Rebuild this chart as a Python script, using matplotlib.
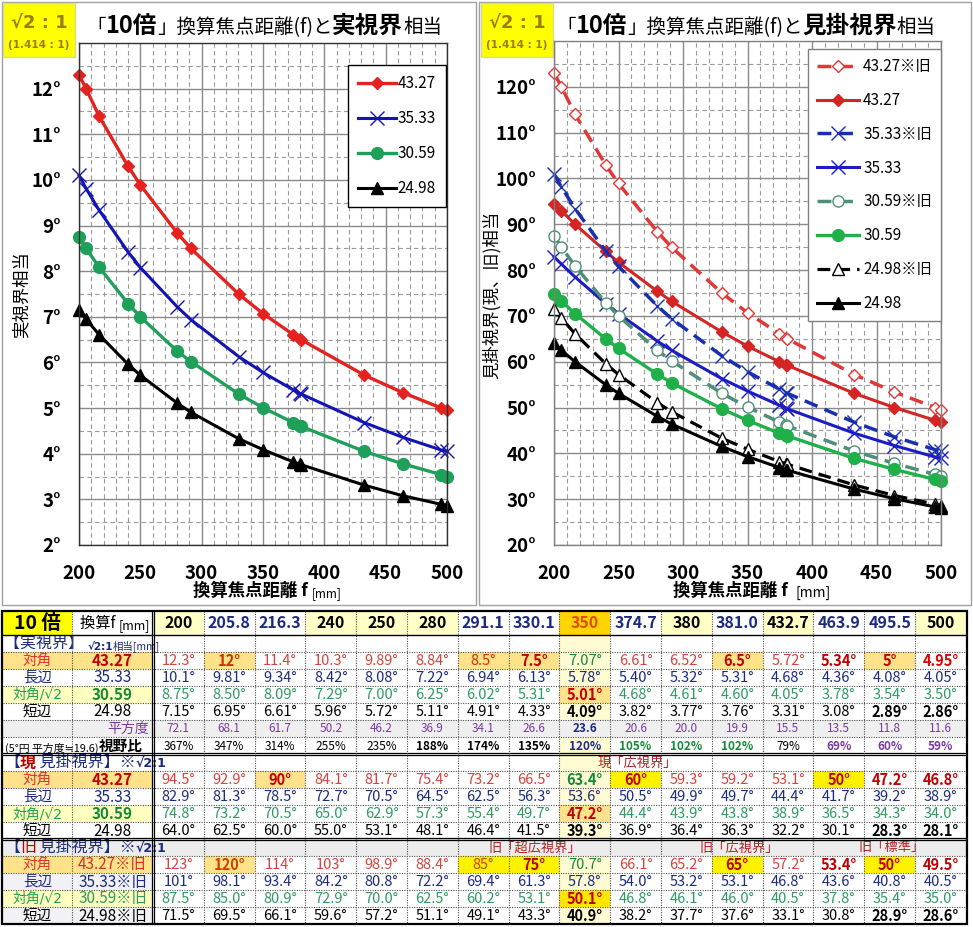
import numpy as np
import matplotlib
matplotlib.use("Agg")
import matplotlib.pyplot as plt
from matplotlib.patches import Rectangle

plt.rcParams['font.family'] = ['Noto Sans CJK JP', 'DejaVu Sans']
ROOTF = ['DejaVu Sans', 'Noto Sans CJK JP']

# ---------------- data ----------------
focal = ["200", "205.8", "216.3", "240", "250", "280", "291.1", "330.1", "350",
         "374.7", "380", "381.0", "432.7", "463.9", "495.5", "500"]
series_names = ["43.27", "35.33", "30.59", "24.98"]

true_diag = ["12.3", "12", "11.4", "10.3", "9.89", "8.84", "8.5", "7.5", "7.07",
             "6.61", "6.52", "6.5", "5.72", "5.34", "5", "4.95"]
true_long = ["10.1", "9.81", "9.34", "8.42", "8.08", "7.22", "6.94", "6.13", "5.78",
             "5.40", "5.32", "5.31", "4.68", "4.36", "4.08", "4.05"]
true_mid = ["8.75", "8.50", "8.09", "7.29", "7.00", "6.25", "6.02", "5.31", "5.01",
            "4.68", "4.61", "4.60", "4.05", "3.78", "3.54", "3.50"]
true_short = ["7.15", "6.95", "6.61", "5.96", "5.72", "5.11", "4.91", "4.33", "4.09",
              "3.82", "3.77", "3.76", "3.31", "3.08", "2.89", "2.86"]
sq_deg = ["72.1", "68.1", "61.7", "50.2", "46.2", "36.9", "34.1", "26.6", "23.6",
          "20.6", "20.0", "19.9", "15.5", "13.5", "11.8", "11.6"]
fov_ratio = ["367", "347", "314", "255", "235", "188", "174", "135", "120",
             "105", "102", "102", "79", "69", "60", "59"]

new_diag = ["94.5", "92.9", "90", "84.1", "81.7", "75.4", "73.2", "66.5", "63.4",
            "60", "59.3", "59.2", "53.1", "50", "47.2", "46.8"]
new_long = ["82.9", "81.3", "78.5", "72.7", "70.5", "64.5", "62.5", "56.3", "53.6",
            "50.5", "49.9", "49.7", "44.4", "41.7", "39.2", "38.9"]
new_mid = ["74.8", "73.2", "70.5", "65.0", "62.9", "57.3", "55.4", "49.7", "47.2",
           "44.4", "43.9", "43.8", "38.9", "36.5", "34.3", "34.0"]
new_short = ["64.0", "62.5", "60.0", "55.0", "53.1", "48.1", "46.4", "41.5", "39.3",
             "36.9", "36.4", "36.3", "32.2", "30.1", "28.3", "28.1"]

old_diag = ["123", "120", "114", "103", "98.9", "88.4", "85", "75", "70.7",
            "66.1", "65.2", "65", "57.2", "53.4", "50", "49.5"]
old_long = ["101", "98.1", "93.4", "84.2", "80.8", "72.2", "69.4", "61.3", "57.8",
            "54.0", "53.2", "53.1", "46.8", "43.6", "40.8", "40.5"]
old_mid = ["87.5", "85.0", "80.9", "72.9", "70.0", "62.5", "60.2", "53.1", "50.1",
           "46.8", "46.1", "46.0", "40.5", "37.8", "35.4", "35.0"]
old_short = ["71.5", "69.5", "66.1", "59.6", "57.2", "51.1", "49.1", "43.3", "40.9",
             "38.2", "37.7", "37.6", "33.1", "30.8", "28.9", "28.6"]

f_vals = np.array(focal, float)
num = lambda a: np.array(a, float)

# ---------------- figure ----------------
W, H = 973, 927
fig = plt.figure(figsize=(W / 100, H / 100), dpi=100)
bg = fig.add_axes([0, 0, 1, 1])
bg.set_xlim(0, W)
bg.set_ylim(H, 0)
bg.axis('off')
bg.set_zorder(0)


def px_ax(l, t, r, b):
    return fig.add_axes([l / W, 1 - b / H, (r - l) / W, (b - t) / H])


def chain(x, y, parts):
    prev = None
    for p in parts:
        s, fs, wt, col = p[:4]
        fam = p[4] if len(p) > 4 else None
        extra = {'family': fam} if fam else {}
        if prev is None:
            prev = bg.text(x, y, s, fontsize=fs, fontweight=wt, color=col,
                           ha='left', va='bottom', zorder=5, **extra)
        else:
            prev = bg.annotate(s, xy=(1, 0), xycoords=prev, fontsize=fs, fontweight=wt,
                               color=col, ha='left', va='bottom', zorder=5, **extra)
    return prev


# panels
bg.add_patch(Rectangle((1.5, 1.5), 474, 603, fc='white', ec='#a0a0a0', lw=1, zorder=0))
bg.add_patch(Rectangle((478.5, 1.5), 492, 603, fc='white', ec='#a0a0a0', lw=1, zorder=0))
for x0 in (3, 481):
    bg.add_patch(Rectangle((x0, 3), 72, 54, fc='#ffff00', ec='#d8d8a0', lw=1, zorder=1))
    bg.text(x0 + 36, 23, "√2 : 1", fontsize=13, fontweight='bold', color='#9c7a14',
            ha='center', va='center', zorder=3, family=ROOTF)
    bg.text(x0 + 36, 45, "(1.414 : 1)", fontsize=7.5, fontweight='bold', color='#9c7a14',
            ha='center', va='center', zorder=3, family=ROOTF)

chain(86, 38, [("「", 14, 'normal', 'black'), ("10倍", 17, 'bold', 'black'),
               ("」換算焦点距離(f)と", 14, 'normal', 'black'), ("実視界", 17, 'bold', 'black'),
               ("相当", 14, 'normal', 'black')])
chain(556, 38, [("「", 14, 'normal', 'black'), ("10倍", 17, 'bold', 'black'),
                ("」換算焦点距離(f)と", 14, 'normal', 'black'), ("見掛視界", 17, 'bold', 'black'),
                ("相当", 14, 'normal', 'black')])

bg.text(22, 295, "実視界相当", rotation=90, fontsize=12.5, ha='center', va='center')
bg.text(492, 295, "見掛視界(現、旧)相当", rotation=90, fontsize=12.5, ha='center', va='center')
chain(193, 600, [("換算焦点距離 f ", 12.5, 'bold', 'black'), ("[mm]", 8.5, 'normal', 'black')])
chain(673, 600, [("換算焦点距離 f  ", 12.5, 'bold', 'black'), ("[mm]", 10, 'normal', 'black')])

# ---------------- charts ----------------
axL = px_ax(79, 43, 447, 545)
axR = px_ax(554, 41, 941, 545)
axL.set_zorder(2)
axR.set_zorder(2)


def style(ax, y0, y1, ymaj, ymin, spine):
    ax.set_xlim(200, 500)
    ax.set_ylim(y0, y1)
    ax.set_xticks(np.arange(200, 501, 50))
    ax.set_xticks(np.arange(200, 501, 10), minor=True)
    yt = np.arange(y0, y1, ymaj)
    ax.set_yticks(yt)
    ax.set_yticklabels([f"{int(v)}°" for v in yt])
    ax.set_yticks(np.arange(y0, y1 + 0.001, ymin), minor=True)
    ax.grid(which='major', color='#8a8a8a', lw=1.0, ls='-')
    ax.grid(which='minor', color='#9a9a9a', lw=0.8, ls=(0, (4, 3)))
    ax.set_axisbelow(True)
    ax.tick_params(which='both', length=0)
    ax.tick_params(axis='y', pad=13, labelsize=13.5)
    ax.tick_params(axis='x', pad=14, labelsize=13.5)
    for lab in ax.get_xticklabels() + ax.get_yticklabels():
        lab.set_fontweight('bold')
    for s in ax.spines.values():
        s.set_color(spine)
        s.set_linewidth(1)


style(axL, 2, 13, 1, 0.5, '#303030')
style(axR, 20, 130, 10, 5, '#808080')

# left chart: 実視界
kw = dict(clip_on=False)
axL.plot(f_vals, num(true_diag), color='#e42320', lw=2.4, marker='D', ms=6, label=series_names[0], **kw)
axL.plot(f_vals, num(true_long), color='#1414b4', lw=2.2, marker='x', ms=10, mew=1, label=series_names[1], **kw)
axL.plot(f_vals, num(true_mid), color='#1fa05a', lw=2.4, marker='o', ms=8.5, label=series_names[2], **kw)
axL.plot(f_vals, num(true_short), color='black', lw=2.2, marker='^', ms=9, label=series_names[3], **kw)
legL = axL.legend(loc='upper right', bbox_to_anchor=(0.997, 0.956), borderaxespad=0,
                  fontsize=11, handlelength=2.5, handletextpad=0.1, labelspacing=1.18,
                  borderpad=0.65, fancybox=False, framealpha=1, edgecolor='black')
legL.get_frame().set_linewidth(1)

# right chart: 見掛視界 (現 / 旧)
dash = (0, (4, 2.2))
old = "※旧"
axR.plot(f_vals, num(old_diag), color='#e03838', lw=2.5, ls=dash, marker='D', ms=6, mfc='white',
         mec='#e03838', label=series_names[0] + old, **kw)
axR.plot(f_vals, num(new_diag), color='#d42424', lw=2.2, marker='D', ms=6, label=series_names[0], **kw)
axR.plot(f_vals, num(old_long), color='#1a2fb0', lw=2.5, ls=dash, marker='x', ms=10, mew=1,
         label=series_names[1] + old, **kw)
axR.plot(f_vals, num(new_long), color='#1c1cc4', lw=2.2, marker='x', ms=10, mew=1, label=series_names[1], **kw)
axR.plot(f_vals, num(old_mid), color='#4f8f76', lw=2.5, ls=dash, marker='o', ms=8, mfc='white',
         mec='#4f8f76', label=series_names[2] + old, **kw)
axR.plot(f_vals, num(new_mid), color='#20b04a', lw=2.4, marker='o', ms=8.5, label=series_names[2], **kw)
axR.plot(f_vals, num(old_short), color='black', lw=2.3, ls=dash, marker='^', ms=8.5, mfc='white',
         mec='black', label=series_names[3] + old, **kw)
axR.plot(f_vals, num(new_short), color='black', lw=2.2, marker='^', ms=9, label=series_names[3], **kw)
legR = axR.legend(loc='upper right', bbox_to_anchor=(1.0, 0.984), borderaxespad=0,
                  fontsize=11, handlelength=2.7, handletextpad=0.3, labelspacing=1.1,
                  borderpad=0.6, fancybox=False, framealpha=1, edgecolor='#808080')
legR.get_frame().set_linewidth(1)

# ---------------- table ----------------
XA, XB, XC = 3, 72, 153
CW = 50.8
TY0, HH, RH = 611, 24, 17.0
NROWS = 18
XEND = XC + 16 * CW


def rtop(r):
    return TY0 if r == 0 else TY0 + HH + (r - 1) * RH


def rhgt(r):
    return HH if r == 0 else RH


def rc(r):
    return rtop(r) + rhgt(r) / 2 + 0.5


def cx(i):
    return XC + i * CW


def fill(x0, x1, r, color, z=1):
    bg.add_patch(Rectangle((x0, rtop(r)), x1 - x0, rhgt(r), fc=color, ec='none', zorder=z))


def txt(x, r, s, ha='center', **k):
    bg.text(x, rc(r), s, ha=ha, va='center', zorder=5, **k)


NAVY = '#1c2a80'
RED = '#d8413c'
DRED = '#c00000'
GRN = '#2e9a62'
GRNB = '#138a38'
PURP = '#7a3ba0'
OBG = '#ffe28a'
YBG = '#fff200'
LYBG = '#ffffc6'
COLHL = '#fffbd2'
GRAY = '#efefef'

# background fills
for r in range(1, NROWS):
    fill(cx(8), cx(9), r, COLHL)
fill(XA, XEND, 6, GRAY)
fill(XA, XEND, 13, '#ececec')
for r in (15, 17):
    fill(XA, XC, r, '#f2f2f6')

# header row
fill(XA, XB, 0, '#ffff00')
txt((XA + XB) / 2, 0, "10 倍", fontsize=14, fontweight='bold')
chain(80, rtop(0) + 21, [("換算f ", 11, 'normal', 'black'), ("[mm]", 9, 'normal', 'black')])
hdr_col = ['k', NAVY, NAVY, 'k', 'k', 'k', NAVY, NAVY, '#e04a00', NAVY, 'k', NAVY, 'k', NAVY, NAVY, 'k']
hdr_bg = [LYBG, None, None, LYBG, LYBG, LYBG, None, None, '#ffd400', None, LYBG, None, LYBG, None, None, LYBG]
for i, s in enumerate(focal):
    if hdr_bg[i]:
        fill(cx(i), cx(i + 1), 0, hdr_bg[i])
    txt(cx(i) + CW / 2, 0, s, fontsize=11.5, fontweight='bold', color=hdr_col[i])

# section headers
chain(4, rtop(1) + 17, [("【実視界】 ", 11.5, 'normal', NAVY), ("√2:1", 7.5, 'bold', NAVY, ROOTF),
                        ("相当[mm]", 7.5, 'normal', NAVY)])
chain(4, rtop(8) + 17, [("【", 11.5, 'normal', NAVY), ("現", 11.5, 'bold', DRED),
                        (" 見掛視界】※", 11.5, 'normal', NAVY), ("√2:1", 9, 'bold', NAVY, ROOTF)])
chain(4, rtop(13) + 17, [("【", 11.5, 'normal', NAVY), ("旧", 11.5, 'normal', DRED),
                         (" 見掛視界】※", 11.5, 'normal', NAVY), ("√2:1", 9, 'bold', NAVY, ROOTF)])
txt(637, 8, "現「広視界」", fontsize=9.5, color='#b02020')
txt(535, 13, "旧「超広視界」", fontsize=9.5, color='#b02020')
txt(739, 13, "旧「広視界」", fontsize=9.5, color='#b02020')
txt(892, 13, "旧「標準」", fontsize=9.5, color='#b02020')


def label_rows(r0, suffix, bold_vals):
    fill(XA, XC, r0, OBG)
    txt((XA + XB) / 2, r0, "対角", fontsize=10.5, color='#e03030')
    txt((XB + XC) / 2, r0, series_names[0] + suffix, fontsize=11,
        fontweight='bold' if bold_vals else 'normal', color=DRED if bold_vals else '#d03030')
    txt((XA + XB) / 2, r0 + 1, "長辺", fontsize=10.5, color=NAVY)
    txt((XB + XC) / 2, r0 + 1, series_names[1] + suffix, fontsize=11, color=NAVY)
    fill(XA, XC, r0 + 2, '#ffffc0')
    txt((XA + XB) / 2, r0 + 2, "対角/√2", fontsize=10, color='#20a050', family=ROOTF)
    txt((XB + XC) / 2, r0 + 2, series_names[2] + suffix, fontsize=11,
        fontweight='bold' if bold_vals else 'normal', color=GRNB if bold_vals else GRN)
    txt((XA + XB) / 2, r0 + 3, "短辺", fontsize=10.5, color='black')
    txt((XB + XC) / 2, r0 + 3, series_names[3] + suffix, fontsize=11, color='black')


label_rows(2, "", True)
label_rows(9, "", True)
label_rows(14, "※旧", False)


def value_row(r, vals, color, over, unit="°", fs=10.5):
    for i, v in enumerate(vals):
        bgc, c, b = over.get(i, (None, color, False))
        if bgc:
            fill(cx(i), cx(i + 1), r, bgc, z=2)
        txt(cx(i) + CW / 2, r, v + unit, fontsize=fs, color=c, fontweight='bold' if b else 'normal')


value_row(2, true_diag, RED, {1: (OBG, '#d03000', True), 6: (OBG, '#d03000', False),
                              7: (OBG, DRED, True), 8: (None, GRNB, False),
                              11: (OBG, DRED, True), 13: (None, DRED, True),
                              14: (OBG, DRED, True), 15: (None, '#e00000', True)})
value_row(3, true_long, NAVY, {})
value_row(4, true_mid, GRN, {8: (OBG, DRED, True)})
value_row(5, true_short, 'black', {8: (None, 'black', True), 14: (None, 'black', True),
                                   15: (None, 'black', True)})
value_row(6, sq_deg, PURP, {8: (None, NAVY, True)}, unit="", fs=8.5)
value_row(7, fov_ratio, 'black', {5: (None, 'black', True), 6: (None, 'black', True),
                                  7: (None, 'black', True), 8: (None, NAVY, True),
                                  9: (None, GRNB, True), 10: (None, GRNB, True),
                                  11: (None, GRNB, True), 13: (None, PURP, True),
                                  14: (None, PURP, True), 15: (None, PURP, True)},
          unit="%", fs=8.5)
txt(XC - 4, 6, "平方度", ha='right', fontsize=10, color=PURP)
chain(5, rtop(7) + 16.5, [("(5°円 平方度≒19.6)", 7.8, 'normal', 'black'), ("視野比", 10.5, 'bold', 'black')])

value_row(9, new_diag, RED, {2: (OBG, DRED, True), 8: (None, GRNB, True),
                             9: (YBG, DRED, True), 13: (YBG, DRED, True),
                             14: (None, DRED, True), 15: (None, DRED, True)})
value_row(10, new_long, NAVY, {})
value_row(11, new_mid, GRN, {8: (OBG, DRED, True)})
value_row(12, new_short, 'black', {8: (None, 'black', True), 14: (None, 'black', True),
                                   15: (None, 'black', True)})

value_row(14, old_diag, RED, {1: (OBG, '#d04000', True), 6: (YBG, '#d04000', False),
                              7: (YBG, DRED, True), 8: (None, GRNB, False),
                              11: (YBG, DRED, True), 13: (None, DRED, True),
                              14: (YBG, DRED, True), 15: (None, DRED, True)})
value_row(15, old_long, NAVY, {})
value_row(16, old_mid, GRN, {8: ('#ffe600', DRED, True)})
value_row(17, old_short, 'black', {8: (None, 'black', True), 14: (None, 'black', True),
                                   15: (None, 'black', True)})

# grid lines of the table
ybot = rtop(NROWS)
for r in range(1, NROWS):
    y = rtop(r)
    if r == 1:
        bg.plot([XA, XEND], [y, y], color='black', lw=1.0, zorder=6)
    elif r in (8, 13):
        bg.plot([XA, XEND], [y - 1.5, y - 1.5], color='black', lw=0.9, zorder=6)
        bg.plot([XA, XEND], [y + 1.0, y + 1.0], color='black', lw=0.9, zorder=6)
    else:
        bg.plot([XA, XEND], [y, y], color='#505050', lw=0.8, ls=(0, (1, 1.2)), zorder=6)
bg.plot([XB, XB], [TY0, ybot], color='#505050', lw=0.8, ls=(0, (1, 1.2)), zorder=6)
for i in range(1, 16):
    bg.plot([cx(i), cx(i)], [TY0, ybot], color='#505050', lw=0.8, ls=(0, (1, 1.2)), zorder=6)
bg.plot([XC - 1.5, XC - 1.5], [TY0, ybot], color='black', lw=0.9, zorder=6)
bg.plot([XC + 1.0, XC + 1.0], [TY0, ybot], color='black', lw=0.9, zorder=6)
bg.add_patch(Rectangle((XA - 1, TY0), XEND - XA + 2, ybot - TY0, fc='none', ec='black', lw=1.6, zorder=7))

fig.savefig("out.png", dpi=100)
